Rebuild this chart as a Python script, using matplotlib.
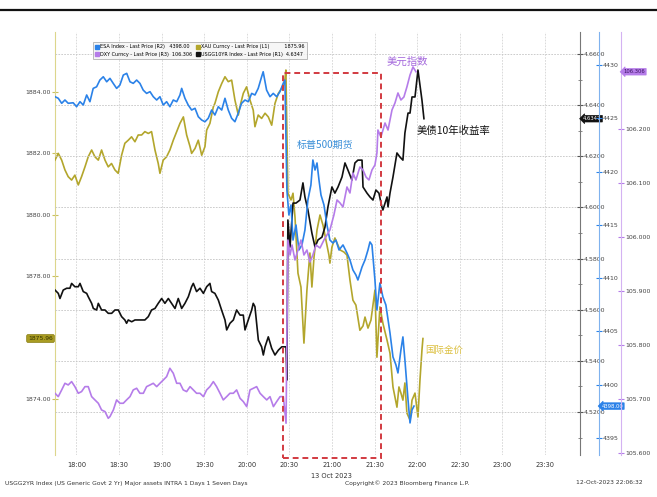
import matplotlib
matplotlib.use("Agg")
import matplotlib.pyplot as plt
from matplotlib.lines import Line2D
from matplotlib.patches import Rectangle
from matplotlib.transforms import blended_transform_factory as btf

# ---------------- data (minutes after 18:00, values) ----------------
esa_t = [-15.1, -12.8, -10.4, -8.1, -5.8, -2.3, 0.1, 2.5, 4.8, 7.2, 9.5, 11.8, 14.2, 16.5, 18.9, 21.3,
         23.6, 25.9, 28.3, 30.6, 33.0, 35.4, 37.7, 40.0, 42.4, 44.7, 47.0, 49.4, 51.8, 54.1, 56.5, 58.8,
         61.1, 63.5, 65.8, 68.2, 70.6, 72.9, 74.1, 76.4, 78.7, 81.1, 83.5, 85.8, 88.2, 90.5, 92.8, 95.2,
         97.5, 99.9, 102.3, 104.6, 106.9, 109.3, 111.6, 113.9, 116.3, 118.7, 121.0, 123.4, 125.7, 128.0,
         130.4, 131.5, 133.9, 136.3, 138.6, 141.0, 143.3, 145.6, 146.8,
         148.2, 149.6, 151.1, 152.5, 154.6, 156.7, 158.8, 160.9, 163.0, 165.1, 166.5, 168.0, 169.4, 170.8,
         172.2, 174.3, 176.4, 178.5, 180.6, 182.7, 184.9, 187.7, 190.5, 192.6, 194.7, 196.8, 198.2, 201.1,
         203.2, 205.3, 206.7, 208.1, 210.2, 211.6, 213.7, 215.8, 217.9, 220.8, 222.9, 225.0, 226.4, 228.5,
         229.9, 231.3, 233.5, 234.9, 236.3, 237.7]
esa_v = [4427.03, 4426.88, 4426.41, 4426.72, 4426.41, 4426.46, 4426.09, 4426.56, 4426.25, 4427.19, 4426.56,
         4427.81, 4427.96, 4428.59, 4428.90, 4428.43, 4428.75, 4428.28, 4427.81, 4428.12, 4429.06, 4429.22,
         4428.43, 4428.28, 4428.59, 4428.28, 4427.65, 4427.34, 4427.50, 4427.03, 4426.72, 4427.03, 4426.25,
         4426.56, 4426.09, 4426.72, 4426.56, 4427.19, 4427.81, 4426.88, 4426.25, 4425.78, 4425.94, 4425.15,
         4424.84, 4424.68, 4425.00, 4425.78, 4425.31, 4426.09, 4425.78, 4426.88, 4425.78, 4425.00, 4424.68,
         4425.47, 4426.41, 4426.72, 4426.56, 4427.34, 4427.19, 4427.81, 4428.90, 4429.37, 4427.65, 4427.03,
         4427.34, 4427.03, 4427.50, 4428.28, 4428.59,
         4418.27, 4415.93, 4416.87, 4413.58, 4414.99, 4412.65, 4413.12, 4414.52, 4417.34, 4418.74, 4421.09,
         4420.15, 4420.81, 4419.21, 4417.81, 4416.87, 4414.99, 4413.58, 4413.30, 4413.58, 4412.65, 4413.12,
         4412.37, 4411.71, 4410.77, 4410.30, 4409.83, 4411.05, 4411.71, 4412.65, 4413.40, 4413.12, 4409.83,
         4407.02, 4409.55, 4408.24, 4407.49, 4404.86, 4402.61, 4401.86, 4401.11, 4403.27, 4404.49, 4402.33,
         4398.58, 4396.42, 4397.64, 4398.00]

xau_t = [-15.1, -12.8, -10.4, -8.1, -5.8, -3.4, -1.1, 1.3, 3.6, 6.0, 8.3, 10.7, 13.0, 15.4, 17.7, 20.1,
         22.4, 24.7, 27.1, 29.4, 31.8, 34.1, 36.5, 38.8, 41.2, 43.5, 45.9, 48.2, 50.6, 52.9, 55.3, 57.6,
         58.8, 61.1, 63.5, 65.8, 68.2, 70.6, 72.9, 75.3, 77.6, 80.0, 81.1, 83.5, 85.8, 88.2, 90.5, 91.7,
         94.0, 96.4, 97.5, 99.9, 102.3, 104.6, 106.9, 109.3, 111.6, 114.0, 115.1, 117.5, 119.8, 122.2,
         124.5, 125.7, 128.0, 130.4, 132.8, 135.1, 137.5, 139.8, 142.2, 144.6, 146.5, 147.5,
         148.9, 151.1, 152.5, 153.9, 156.0, 158.1, 160.2, 162.3, 164.4, 165.8, 167.3, 169.4, 171.5, 173.6,
         175.7, 177.8, 178.5, 179.9, 182.0, 185.6, 188.4, 190.5, 192.6, 194.7, 196.8, 199.6, 201.8, 203.2,
         205.3, 207.4, 210.2, 211.6, 213.7, 215.8, 218.7, 220.8, 222.9, 224.3, 225.7, 227.1, 228.5, 229.9,
         231.3, 232.7, 234.9, 236.3, 238.4, 240.5, 241.9, 243.3, 244.0]
xau_v = [1881.78, 1882.00, 1881.78, 1881.46, 1881.24, 1881.13, 1881.29, 1880.97, 1881.24, 1881.56, 1881.89,
         1882.11, 1881.89, 1881.78, 1882.11, 1881.78, 1881.56, 1881.67, 1881.46, 1881.35, 1881.94, 1882.33,
         1882.43, 1882.54, 1882.38, 1882.60, 1882.60, 1882.71, 1882.65, 1882.71, 1882.11, 1881.67, 1881.35,
         1881.78, 1881.89, 1882.11, 1882.43, 1882.71, 1882.98, 1883.19, 1882.60, 1882.22, 1882.00, 1882.16,
         1882.43, 1881.94, 1882.22, 1882.76, 1882.98, 1883.52, 1883.63, 1884.01, 1884.28, 1884.50, 1884.34,
         1884.39, 1883.74, 1883.25, 1883.52, 1883.96, 1884.17, 1883.74, 1883.41, 1882.87, 1883.25, 1883.14,
         1883.31, 1883.19, 1882.92, 1883.63, 1883.96, 1884.12, 1884.28, 1884.72,
         1880.70, 1880.48, 1880.70, 1879.92, 1878.09, 1877.64, 1875.81, 1877.54, 1878.75, 1877.64, 1878.62,
         1879.50, 1879.99, 1879.66, 1879.17, 1878.68, 1878.42, 1878.94, 1879.24, 1878.85, 1878.78, 1878.68,
         1877.87, 1877.21, 1877.05, 1876.23, 1876.37, 1876.66, 1876.30, 1876.56, 1877.54, 1875.35, 1876.99,
         1876.46, 1875.91, 1875.48, 1874.38, 1874.05, 1873.72, 1874.38, 1874.18, 1873.95, 1874.51, 1873.53,
         1873.30, 1873.95, 1874.18, 1873.40, 1874.60, 1875.58, 1875.96]

ust_t = [-15.1, -12.8, -11.6, -9.3, -6.9, -4.6, -3.4, -1.1, 1.3, 2.5, 4.8, 7.2, 8.3, 10.7, 11.9, 14.2,
         15.4, 17.7, 20.1, 22.4, 24.8, 27.1, 29.5, 31.8, 34.1, 35.3, 36.5, 38.9, 41.2, 43.5, 45.9, 48.2,
         50.6, 52.9, 55.3, 57.6, 60.0, 62.3, 64.7, 67.0, 69.4, 71.7, 74.1, 76.4, 78.8, 81.1, 82.3, 84.6,
         87.0, 89.4, 91.7, 94.0, 95.2, 97.5, 99.9, 102.2, 104.6, 105.8, 108.1, 110.5, 112.8, 115.2, 117.5,
         118.7, 121.0, 123.4, 124.5, 125.7, 128.1, 130.4, 131.6, 132.8, 135.1, 137.5, 139.8, 142.2, 144.6,
         146.9, 147.6, 148.2,
         148.9, 150.4, 152.5, 154.6, 157.4, 159.5, 160.9, 163.0, 165.8, 168.0, 170.1, 172.9, 175.0, 177.1,
         179.9, 182.0, 184.2, 187.0, 189.1, 191.2, 194.0, 196.1, 198.2, 201.1, 201.8, 204.6, 206.7, 208.8,
         210.9, 213.0, 215.1, 215.8, 218.7, 219.4, 220.8, 222.9, 225.7, 227.8, 229.9, 231.3, 233.5, 234.9,
         236.3, 238.4, 240.5, 241.9, 243.3, 244.7]
ust_v = [4.5677, 4.5664, 4.5644, 4.5677, 4.5684, 4.5684, 4.5703, 4.5690, 4.5690, 4.5703, 4.5671, 4.5664,
         4.5651, 4.5625, 4.5605, 4.5599, 4.5625, 4.5599, 4.5599, 4.5586, 4.5586, 4.5599, 4.5599, 4.5573,
         4.5560, 4.5547, 4.5560, 4.5553, 4.5560, 4.5560, 4.5560, 4.5560, 4.5573, 4.5599, 4.5605, 4.5625,
         4.5644, 4.5625, 4.5644, 4.5625, 4.5605, 4.5644, 4.5605, 4.5625, 4.5651, 4.5690, 4.5703, 4.5671,
         4.5684, 4.5664, 4.5690, 4.5703, 4.5671, 4.5664, 4.5638, 4.5599, 4.5560, 4.5521, 4.5547, 4.5560,
         4.5599, 4.5579, 4.5579, 4.5521, 4.5560, 4.5599, 4.5625, 4.5612, 4.5481, 4.5455, 4.5423, 4.5455,
         4.5494, 4.5449, 4.5423, 4.5442, 4.5455, 4.5455, 4.5455, 4.5325,
         4.5951, 4.5845, 4.6017, 4.6017, 4.6029, 4.6096, 4.6041, 4.5990, 4.5900, 4.5845, 4.5873, 4.5884,
         4.5923, 4.6002, 4.6080, 4.6056, 4.6080, 4.6119, 4.6174, 4.6146, 4.6107, 4.6174, 4.6185, 4.6185,
         4.6080, 4.6056, 4.6041, 4.6029, 4.6068, 4.6056, 4.6002, 4.5990, 4.6041, 4.6002, 4.6056, 4.6119,
         4.6213, 4.6197, 4.6185, 4.6291, 4.6369, 4.6369, 4.6432, 4.6432, 4.6537, 4.6479, 4.6420, 4.6347]

dxy_t = [-15.1, -12.8, -10.4, -8.1, -5.8, -3.4, -1.1, 1.3, 3.6, 6.0, 8.3, 10.7, 13.0, 15.4, 17.7, 20.1,
         22.4, 23.6, 26.0, 28.3, 30.6, 33.0, 35.3, 37.7, 40.0, 42.4, 44.7, 47.1, 49.4, 51.8, 54.1, 56.5,
         58.8, 61.2, 63.5, 65.8, 68.2, 70.6, 72.9, 75.2, 77.6, 80.0, 82.3, 84.6, 87.0, 89.4, 91.7, 94.0,
         96.4, 98.7, 101.1, 103.4, 105.8, 108.1, 110.5, 112.8, 115.2, 117.5, 119.9, 122.2, 124.6, 126.9,
         129.3, 131.6, 134.0, 136.3, 138.7, 141.0, 143.4, 145.7, 147.6,
         148.9, 150.4, 151.8, 153.9, 156.0, 158.1, 160.2, 162.3, 164.4, 166.5, 168.7, 171.5, 174.3, 176.4,
         178.5, 181.3, 183.5, 185.6, 187.7, 190.5, 192.6, 194.7, 196.8, 199.6, 201.8, 203.9, 206.0, 208.1,
         210.2, 211.6, 212.3, 214.4, 217.3, 219.4, 222.2, 224.3, 226.4, 228.5, 230.6, 232.7, 234.9, 237.0,
         239.1]
dxy_v = [105.7106, 105.7044, 105.7168, 105.7291, 105.7260, 105.7322, 105.7229, 105.7106, 105.7137, 105.7229,
         105.7229, 105.7044, 105.6983, 105.6921, 105.6797, 105.6767, 105.6643, 105.6674, 105.6797, 105.6983,
         105.6921, 105.6921, 105.6983, 105.7044, 105.7168, 105.7199, 105.7106, 105.7106, 105.7229, 105.7260,
         105.7291, 105.7229, 105.7291, 105.7353, 105.7414, 105.7569, 105.7476, 105.7291, 105.7291, 105.7168,
         105.7137, 105.7229, 105.7168, 105.7106, 105.7106, 105.7044, 105.7168, 105.7229, 105.7322, 105.7229,
         105.7106, 105.6983, 105.7044, 105.7106, 105.7106, 105.7168, 105.7013, 105.6952, 105.6859, 105.7168,
         105.7199, 105.7229, 105.7106, 105.7044, 105.6983, 105.7044, 105.6859, 105.6952, 105.7044, 105.7044,
         105.6551,
         105.9944, 105.9667, 105.9852, 105.9574, 105.9759, 105.9944, 105.9667, 105.9759, 105.9537, 105.9667,
         105.9852, 105.9796, 105.9944, 106.0037, 106.0130, 106.0407, 106.0685, 106.0630, 106.0556, 106.0926,
         106.0815, 106.1185, 106.1056, 106.1296, 106.1241, 106.1111, 106.1056, 106.1241, 106.1333, 106.1556,
         106.1981, 106.1852, 106.2111, 106.1981, 106.2352, 106.2481, 106.2667, 106.2537, 106.2593, 106.2778,
         106.3000, 106.3148, 106.3060]

x_ticks = [0, 30, 60, 90, 120, 150, 180, 210, 240, 270, 300, 330]
x_labels = ["18:00", "18:30", "19:00", "19:30", "20:00", "20:30", "21:00", "21:30",
            "22:00", "22:30", "23:00", "23:30"]
xau_ticks = [1874, 1878, 1880, 1882, 1884]
ust_ticks = [4.52, 4.54, 4.56, 4.58, 4.60, 4.62, 4.64, 4.66]
esa_ticks = [4395, 4400, 4405, 4410, 4415, 4420, 4425, 4430]
dxy_ticks = [105.6, 105.7, 105.8, 105.9, 106.0, 106.1, 106.2]

legend_labels = ["ESA Index - Last Price (R2)   4398.00",
                 "DXY Curncy - Last Price (R3)  106.306",
                 "XAU Curncy - Last Price (L1)          1875.96",
                 "USGG10YR Index - Last Price (R1)  4.6347"]

C_ESA = "#2b82e8"
C_XAU = "#b3a62c"
C_DXY = "#b57ce9"
C_UST = "#111111"

plt.rcParams['font.family'] = ['DejaVu Sans']
CJK = ['Noto Sans CJK SC', 'DejaVu Sans']

fig = plt.figure(figsize=(6.57, 4.97), dpi=100)
ax = fig.add_axes([55/657, 1-455/497, 525/657, 423/497])
ax2 = ax.twinx()
ax3 = ax.twinx()
ax4 = ax.twinx()

xmin, xmax = -15.1, 354.6
for a in (ax, ax2, ax3, ax4):
    a.set_xlim(xmin, xmax)
    a.spines['top'].set_visible(False)
    a.spines['bottom'].set_visible(False)
    a.patch.set_visible(False)

ax.set_ylim(1872.16, 1885.96)
ax2.set_ylim(4.5032, 4.6686)
ax3.set_ylim(4393.41, 4433.10)
ax4.set_ylim(105.5963, 106.3796)

# grid
ax.set_xticks(x_ticks)
ax.set_xticklabels(x_labels, fontsize=4.8, color="#333333")
ax.tick_params(axis='x', length=0, pad=5)
ax.grid(axis='x', color="#d4d4d4", lw=0.6, ls=(0, (2, 1.5)))
ax2.set_yticks(ust_ticks)
ax2.grid(axis='y', color="#c4c4c4", lw=0.6, ls=(0, (2, 1.5)))

# lines
ax.plot(xau_t, xau_v, color=C_XAU, lw=1.2, zorder=3)
ax2.plot(ust_t, ust_v, color=C_UST, lw=1.2, zorder=3)
ax3.plot(esa_t, esa_v, color=C_ESA, lw=1.2, zorder=3)
ax4.plot(dxy_t, dxy_v, color=C_DXY, lw=1.2, zorder=3)

# spines and ticks
ax.spines['left'].set_color("#dcd68c")
ax.spines['right'].set_visible(False)
ax.set_yticks(xau_ticks)
ax.set_yticklabels([f"{v:.2f}" for v in xau_ticks], fontsize=4.5, color="#444444")
ax.tick_params(axis='y', direction='inout', length=4, width=0.8, color="#c9c060", pad=1)

for a in (ax2, ax3, ax4):
    a.spines['left'].set_visible(False)
ax2.spines['right'].set_color("#777777")
ax2.set_yticklabels([f"{v:.4f}" for v in ust_ticks], fontsize=4.5, color="#444444")
ax2.set_yticks([4.51, 4.53, 4.55, 4.57, 4.59, 4.61, 4.63, 4.65], minor=True)
ax2.tick_params(axis='y', which='major', direction='inout', length=4, width=0.8, color="#555555", pad=1)
ax2.tick_params(axis='y', which='minor', direction='inout', length=2.5, width=0.6, color="#777777")

ax3.spines['right'].set_position(('axes', 1 + 19/525))
ax3.spines['right'].set_color("#7fb2ee")
ax3.set_yticks(esa_ticks)
ax3.set_yticklabels([f"{v}" for v in esa_ticks], fontsize=4.5, color="#444444")
ax3.tick_params(axis='y', direction='inout', length=4, width=0.8, color=C_ESA, pad=1)

ax4.spines['right'].set_position(('axes', 1 + 41/525))
ax4.spines['right'].set_color("#d4b2f2")
ax4.set_yticks(dxy_ticks)
ax4.set_yticklabels([f"{v:.3f}" for v in dxy_ticks], fontsize=4.5, color="#444444")
ax4.tick_params(axis='y', direction='inout', length=4, width=0.8, color=C_DXY, pad=1)

# last-price boxes
ax.text(-0.004, xau_v[-1], f"{xau_v[-1]:.2f}", transform=btf(ax.transAxes, ax.transData),
        ha='right', va='center', fontsize=4.3, color="#333300", zorder=10, clip_on=False,
        bbox=dict(boxstyle="round,pad=0.25", fc="#a99c22", ec="#8a7f18", lw=0.5))
ax2.text(1.006, ust_v[-1], f"{ust_v[-1]:.4f}", transform=btf(ax2.transAxes, ax2.transData),
         ha='left', va='center', fontsize=3.8, color="white", zorder=10, clip_on=False,
         bbox=dict(boxstyle="larrow,pad=0.15", fc="#111111", ec="#111111", lw=0.5))
ax3.text(1 + 19/525 + 0.005, esa_v[-1], f"{esa_v[-1]:.2f}", transform=btf(ax3.transAxes, ax3.transData),
         ha='left', va='center', fontsize=3.8, color="white", zorder=10, clip_on=False,
         bbox=dict(boxstyle="larrow,pad=0.15", fc=C_ESA, ec=C_ESA, lw=0.5))
ax4.text(1 + 41/525 + 0.005, dxy_v[-1], f"{dxy_v[-1]:.3f}", transform=btf(ax4.transAxes, ax4.transData),
         ha='left', va='center', fontsize=3.8, color="#3a1060", zorder=10, clip_on=False,
         bbox=dict(boxstyle="larrow,pad=0.15", fc=C_DXY, ec=C_DXY, lw=0.5))

# red dashed highlight box
rect = Rectangle((145.4, -0.007), 214.4 - 145.4, 0.903 + 0.007, transform=btf(ax4.transData, ax4.transAxes),
                 fill=False, ec="#d23a40", lw=1.4, ls=(0, (3, 2)), clip_on=False, zorder=6)
ax4.add_patch(rect)

# legend
handles = [Line2D([], [], ls='none', marker='s', ms=3.0, color=c) for c in (C_ESA, C_DXY, C_XAU, C_UST)]
leg = ax4.legend(handles, legend_labels, ncol=2, loc='upper left', bbox_to_anchor=(0.068, 0.982),
                 fontsize=3.5, frameon=True, fancybox=False, handlelength=0.7, handletextpad=0.3,
                 columnspacing=0.8, borderpad=0.5, labelspacing=0.45)
leg.get_frame().set_edgecolor("#aaaaaa")
leg.get_frame().set_facecolor("#f4f4f4")
leg.get_frame().set_linewidth(0.7)
leg.set_zorder(20)

# annotations
fig.text(407/657, 1-62/497, "美元指数", family=CJK, fontsize=7.5, color="#a468dc", ha='center', va='center')
fig.text(417/657, 1-131/497, "美债10年收益率", family=CJK, fontsize=7.5, color="#111111", ha='left', va='center')
fig.text(297/657, 1-145/497, "标普500期货", family=CJK, fontsize=7.2, color="#3a8fd8", ha='left', va='center')
fig.text(425/657, 1-350/497, "国际金价", family=CJK, fontsize=6.8, color="#dcc040", ha='left', va='center')

# footer texts
fig.text(331/657, 1-476/497, "13 Oct 2023", fontsize=4.8, color="#333333", ha='center', va='center')
fig.text(5/657, 1-483/497, "USGG2YR Index (US Generic Govt 2 Yr) Major assets INTRA 1 Days 1 Seven Days",
         fontsize=4.3, color="#333333", ha='left', va='center')
fig.text(407/657, 1-483/497, "Copyright\u00a9 2023 Bloomberg Finance L.P.", fontsize=4.3, color="#333333",
         ha='center', va='center')
fig.text(643/657, 1-483/497, "12-Oct-2023 22:06:32", fontsize=4.3, color="#333333", ha='right', va='center')

# top rule
fig.add_artist(Line2D([0, 1], [1-10/497, 1-10/497], transform=fig.transFigure, color="#111111", lw=1.6))

fig.savefig("out.png", dpi=100, facecolor="white")
